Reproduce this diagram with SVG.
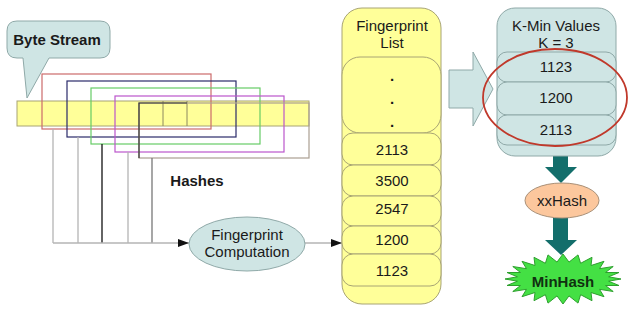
<svg xmlns="http://www.w3.org/2000/svg" width="640" height="314" viewBox="0 0 640 314">
  <defs>
    <marker id="tri" markerWidth="12" markerHeight="10" refX="11" refY="5" orient="auto" markerUnits="userSpaceOnUse">
      <path d="M0,1 L11,5 L0,9 Z" fill="#111"/>
    </marker>
    <style>
      text { font-family: "Liberation Sans", Arial, sans-serif; font-size: 15px; fill: #1a1a1a; text-anchor: middle; }
      .bold { font-weight: bold; }
      .yel { fill: #ffff99; stroke: #a8a474; stroke-width: 1; }
      .aqua { fill: #cfe5e4; stroke: #8fa9a8; stroke-width: 1; }
      .win { fill: none; stroke-width: 1.2; }
      .wire { fill: none; stroke: #b4b4b4; stroke-width: 1.3; }
      .teal { fill: #136e6b; }
    </style>
  </defs>
  <rect width="640" height="314" fill="#ffffff"/>

  <!-- callout -->
  <g id="byte-stream">
    <path class="aqua" d="M17,21 H100 Q110,21 110,31 V48 Q110,58 100,58 H49 L27,98 L23,58 H17 Q7,58 7,48 V31 Q7,21 17,21 Z"/>
    <text class="bold" x="57" y="45">Byte Stream</text>
  </g>

  <!-- byte strip with sliding windows -->
  <g id="byte-strip">
    <rect class="yel" x="17" y="101" width="292" height="25"/>
    <line x1="163" y1="101" x2="163" y2="126" stroke="#8c8860"/>
    <line x1="187" y1="101" x2="187" y2="126" stroke="#8c8860"/>
    <rect class="win" x="42" y="74" width="169" height="55" stroke="#cc6b6b"/>
    <rect class="win" x="67" y="81" width="169" height="56" stroke="#2a2a6a"/>
    <rect class="win" x="91" y="88" width="169" height="56" stroke="#66cc66"/>
    <rect class="win" x="115" y="96" width="169" height="56" stroke="#bb55cc"/>
    <rect class="win" x="139" y="103" width="170" height="55" stroke="#ab9f92"/>
    <path d="M139,158 V103 H187" fill="none" stroke="#333" stroke-width="1.2"/>
  </g>

  <g id="hashes-label">
    <text class="bold" x="197" y="186">Hashes</text>
  </g>

  <g id="connectors">
    <line x1="53" y1="129" x2="53" y2="243" class="wire"/>
    <line x1="78" y1="137" x2="78" y2="243" class="wire"/>
    <line x1="102" y1="144" x2="102" y2="243" stroke="#111" stroke-width="1.3"/>
    <line x1="128" y1="152" x2="128" y2="243" class="wire"/>
    <line x1="152" y1="158" x2="152" y2="243" stroke="#777" stroke-width="1.3"/>
    <line x1="53" y1="243" x2="189" y2="243" class="wire" marker-end="url(#tri)"/>
    <line x1="305" y1="243" x2="342" y2="243" class="wire" marker-end="url(#tri)"/>
    <!-- thick teal arrows -->
    <path class="teal" d="M553,146 H568 V167 H577 L561,183 L545,167 H553 Z"/>
    <path class="teal" d="M553,218 H568 V240 H577 L561,255 L545,240 H553 Z"/>
  </g>

  <g id="fingerprint-computation">
    <ellipse class="aqua" cx="247" cy="244" rx="58" ry="27"/>
    <text x="247" y="240">Fingerprint</text>
    <text x="247" y="257">Computation</text>
  </g>

  <g id="fingerprint-list">
    <rect class="yel" x="342" y="8" width="99" height="296" rx="20"/>
    <text x="392" y="31">Fingerprint</text>
    <text x="392" y="48">List</text>
    <rect class="yel" x="342" y="57" width="99" height="76" rx="18"/>
    <text class="bold" x="392" y="81">.</text>
    <text class="bold" x="392" y="104">.</text>
    <text class="bold" x="392" y="127">.</text>
    <rect class="yel" x="342" y="133" width="99" height="32" rx="11"/>
    <text x="392" y="155">2113</text>
    <rect class="yel" x="342" y="165" width="99" height="31" rx="11"/>
    <text x="392" y="186">3500</text>
    <rect class="yel" x="342" y="196" width="99" height="30" rx="11"/>
    <text x="392" y="214">2547</text>
    <rect class="yel" x="342" y="226" width="99" height="28" rx="11"/>
    <text x="392" y="245">1200</text>
    <rect class="yel" x="342" y="254" width="99" height="32" rx="11"/>
    <text x="392" y="276">1123</text>
  </g>

  <g id="select-arrow">
    <path class="aqua" d="M449,70 H473 V52 L493,89 L473,126 V108 H449 Z"/>
  </g>

  <g id="k-min-values">
    <rect class="aqua" x="497" y="8" width="119" height="148" rx="18"/>
    <text x="556" y="31">K-Min Values</text>
    <text x="556" y="48">K = 3</text>
    <rect class="aqua" x="497" y="52" width="119" height="30" rx="10"/>
    <text x="556" y="72">1123</text>
    <rect class="aqua" x="497" y="82" width="119" height="33" rx="10"/>
    <text x="556" y="103">1200</text>
    <rect class="aqua" x="497" y="115" width="119" height="30" rx="10"/>
    <text x="556" y="135">2113</text>
    <ellipse cx="555" cy="97.5" rx="72" ry="48.5" fill="none" stroke="#c0392b" stroke-width="1.8"/>
  </g>

  <g id="xxhash">
    <ellipse cx="562" cy="200.5" rx="37" ry="17.5" fill="#fcc79d" stroke="#a89078" stroke-width="1"/>
    <text x="562" y="206">xxHash</text>
  </g>

  <g id="minhash">
    <polygon fill="#44e044" stroke="#2ea02e" stroke-width="1" points="621,279 608.6,281.2 619,285.5 605.5,285.5 613.2,291.5 599.5,289.3 604,296.7 591,292.5 592,300.7 580.6,294.7 578,303.1 569,295.9 563,304 557,295.9 548,303.1 545.4,294.7 534,300.7 535,292.5 522,296.7 526.5,289.3 512.8,291.5 520.5,285.5 507,285.5 517.4,281.2 505,279 517.4,276.8 507,272.5 520.5,272.5 512.8,266.5 526.5,268.7 522,261.3 535,265.5 534,257.3 545.4,263.3 548,254.9 557,262.1 563,254 569,262.1 578,254.9 580.6,263.3 592,257.3 591,265.5 604,261.3 599.5,268.7 613.2,266.5 605.5,272.5 619,272.5 608.6,276.8"/>
    <text class="bold" x="563" y="287" style="fill:#103010">MinHash</text>
  </g>
</svg>
